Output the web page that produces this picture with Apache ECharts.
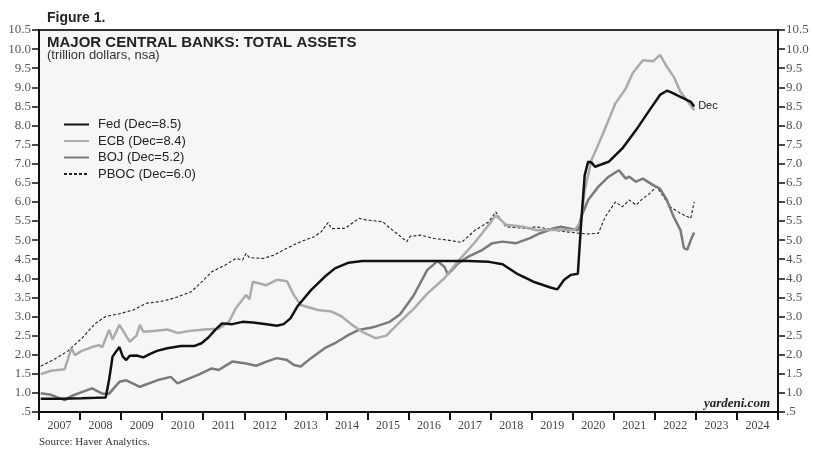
<!DOCTYPE html>
<html>
<head>
<meta charset="utf-8">
<script src="https://cdn.jsdelivr.net/npm/echarts@6/dist/echarts.min.js"></script>
<style>
  html, body { margin: 0; padding: 0; background: #ffffff; }
  #chart { width: 813px; height: 457px; }
</style>
</head>
<body>
<div id="chart"></div>
<script>
// Year labels centred under each year slot
const yearLabels = ['2007','2008','2009','2010','2011','2012','2013','2014','2015',
  '2016','2017','2018','2019','2020','2021','2022','2023','2024'];

// Total assets, trillion US dollars (month, value)
const fed = [
  ['2007-01',0.85],['2007-07',0.85],['2008-01',0.86],['2008-05',0.87],['2008-08',0.88],
  ['2008-09',1.35],['2008-10',1.95],['2008-11',2.08],['2008-12',2.2],['2009-01',1.95],
  ['2009-02',1.86],['2009-03',1.97],['2009-05',1.98],['2009-07',1.93],['2009-09',2.02],
  ['2009-11',2.1],['2010-02',2.17],['2010-06',2.23],['2010-10',2.23],['2010-12',2.3],
  ['2011-02',2.45],['2011-04',2.65],['2011-06',2.82],['2011-09',2.8],['2011-12',2.86],
  ['2012-03',2.84],['2012-07',2.8],['2012-10',2.76],['2012-12',2.8],['2013-02',2.95],
  ['2013-04',3.26],['2013-08',3.69],['2013-12',4.04],['2014-03',4.26],['2014-07',4.41],
  ['2014-11',4.45],['2015-06',4.45],['2016-01',4.45],['2016-09',4.45],['2017-06',4.45],
  ['2017-12',4.43],['2018-04',4.37],['2018-08',4.13],['2019-01',3.91],['2019-06',3.76],
  ['2019-08',3.71],['2019-10',3.96],['2019-12',4.09],['2020-02',4.12],['2020-03',5.5],
  ['2020-04',6.7],['2020-05',7.05],['2020-06',7.03],['2020-07',6.92],['2020-11',7.05],
  ['2021-03',7.40],['2021-07',7.88],['2021-11',8.41],['2022-02',8.80],['2022-04',8.91],
  ['2022-05',8.88],['2022-08',8.75],['2022-11',8.62],['2022-12',8.5]
];

const ecb = [
  ['2007-01',1.49],['2007-04',1.58],['2007-08',1.62],['2007-10',2.17],['2007-11',1.99],
  ['2008-01',2.1],['2008-04',2.2],['2008-06',2.25],['2008-07',2.2],['2008-09',2.65],
  ['2008-10',2.4],['2008-12',2.78],['2009-03',2.34],['2009-05',2.5],['2009-06',2.78],
  ['2009-07',2.6],['2009-10',2.62],['2010-02',2.66],['2010-05',2.57],['2010-09',2.63],
  ['2011-01',2.66],['2011-05',2.68],['2011-08',2.86],['2011-10',3.21],['2012-01',3.56],
  ['2012-02',3.45],['2012-03',3.91],['2012-07',3.82],['2012-10',3.96],['2013-01',3.92],
  ['2013-03',3.56],['2013-05',3.30],['2013-10',3.17],['2014-02',3.13],['2014-05',3.0],
  ['2014-08',2.78],['2014-11',2.6],['2015-03',2.43],['2015-06',2.5],['2015-10',2.86],
  ['2016-02',3.2],['2016-06',3.6],['2016-11',4.0],['2017-03',4.45],['2017-08',4.95],
  ['2017-12',5.4],['2018-02',5.65],['2018-05',5.4],['2018-10',5.35],['2019-02',5.26],
  ['2019-07',5.27],['2020-01',5.26],['2020-03',5.5],['2020-04',6.3],['2020-06',7.1],
  ['2020-09',7.71],['2021-01',8.58],['2021-04',8.97],['2021-06',9.37],['2021-09',9.71],
  ['2021-12',9.68],['2022-02',9.85],['2022-04',9.54],['2022-06',9.28],['2022-08',8.88],
  ['2022-10',8.65],['2022-12',8.4]
];

const boj = [
  ['2007-01',0.99],['2007-04',0.95],['2007-08',0.81],['2007-10',0.92],['2008-01',1.02],
  ['2008-04',1.12],['2008-07',0.98],['2008-09',0.98],['2008-12',1.29],['2009-02',1.33],
  ['2009-06',1.16],['2009-11',1.33],['2010-03',1.42],['2010-05',1.25],['2010-07',1.33],
  ['2010-11',1.47],['2011-03',1.64],['2011-05',1.6],['2011-09',1.82],['2012-01',1.77],
  ['2012-04',1.71],['2012-07',1.82],['2012-10',1.91],['2013-01',1.86],['2013-03',1.73],
  ['2013-05',1.69],['2013-08',1.91],['2013-12',2.17],['2014-03',2.3],['2014-07',2.52],
  ['2014-10',2.65],['2015-01',2.7],['2015-03',2.74],['2015-07',2.86],['2015-10',3.05],
  ['2016-02',3.55],['2016-06',4.22],['2016-09',4.45],['2016-11',4.3],['2016-12',4.1],
  ['2017-03',4.39],['2017-06',4.57],['2017-10',4.74],['2018-01',4.92],['2018-04',4.96],
  ['2018-08',4.92],['2018-12',5.05],['2019-03',5.18],['2019-07',5.31],['2019-09',5.35],
  ['2020-02',5.26],['2020-03',5.61],['2020-05',6.05],['2020-08',6.4],['2020-11',6.66],
  ['2021-02',6.83],['2021-04',6.61],['2021-05',6.66],['2021-07',6.53],['2021-09',6.61],
  ['2021-12',6.44],['2022-02',6.35],['2022-04',6.05],['2022-06',5.61],['2022-08',5.26],
  ['2022-09',4.79],['2022-10',4.75],['2022-11',5.0],['2022-12',5.2]
];

const pboc = [
  ['2007-01',1.70],['2007-05',1.88],['2007-09',2.10],['2008-01',2.43],['2008-05',2.82],
  ['2008-08',3.0],['2008-12',3.07],['2009-04',3.17],['2009-08',3.35],['2009-12',3.39],
  ['2010-04',3.48],['2010-09',3.65],['2010-12',3.9],['2011-03',4.17],['2011-07',4.35],
  ['2011-10',4.52],['2011-12',4.48],['2012-01',4.65],['2012-02',4.54],['2012-06',4.52],
  ['2012-09',4.6],['2013-01',4.79],['2013-05',4.96],['2013-09',5.09],['2013-11',5.22],
  ['2014-01',5.46],['2014-02',5.3],['2014-06',5.31],['2014-10',5.57],['2014-12',5.53],
  ['2015-05',5.48],['2015-06',5.39],['2015-09',5.18],['2015-12',4.96],['2016-01',5.1],
  ['2016-04',5.13],['2016-08',5.04],['2016-12',5.0],['2017-04',4.94],['2017-08',5.26],
  ['2017-12',5.48],['2018-02',5.74],['2018-03',5.6],['2018-05',5.35],['2018-10',5.31],
  ['2019-02',5.35],['2019-07',5.26],['2019-12',5.2],['2020-05',5.16],['2020-08',5.18],
  ['2020-10',5.61],['2021-01',6.0],['2021-03',5.87],['2021-05',6.05],['2021-07',5.92],
  ['2021-09',6.09],['2021-11',6.22],['2022-01',6.40],['2022-03',6.14],['2022-05',5.87],
  ['2022-08',5.70],['2022-11',5.57],['2022-12',6.0]
];

const legendNames = ['Fed (Dec=8.5)', 'ECB (Dec=8.4)', 'BOJ (Dec=5.2)', 'PBOC (Dec=6.0)'];

// 'YYYY-MM' -> decimal year at the middle of the month
function toPoints(rows) {
  return rows.map(function (r) {
    const parts = r[0].split('-');
    return [Number(parts[0]) + (Number(parts[1]) - 0.5) / 12, r[1]];
  });
}

const serif = 'Liberation Serif, Times New Roman, serif';
const sans = 'Liberation Sans, Arial, sans-serif';

function yLabel(v) {
  return Math.abs(v - 0.5) < 1e-9 ? '.5' : v.toFixed(1);
}

function yAxisDef(pos) {
  return {
    type: 'value', position: pos, min: 0.5, max: 10.5, interval: 0.5,
    axisLine: { show: true, lineStyle: { color: '#111', width: 2 } },
    axisTick: { show: true, inside: false, length: 7, lineStyle: { color: '#111', width: 1.5 } },
    axisLabel: { formatter: yLabel, fontFamily: serif, fontSize: 13, color: '#555', margin: 8 },
    splitLine: { show: false }
  };
}

const chart = echarts.init(document.getElementById('chart'), null, { renderer: 'canvas' });

chart.setOption({
  animation: false,
  backgroundColor: '#ffffff',
  grid: {
    left: 39, right: 35, top: 30, bottom: 45,
    show: true, backgroundColor: '#f6f6f6', borderColor: '#333', borderWidth: 2
  },
  title: [
    { text: 'Figure 1.', left: 47, top: 11, padding: 0,
      textStyle: { fontFamily: sans, fontSize: 14, fontWeight: 'bold', color: '#222' } },
    { text: 'MAJOR CENTRAL BANKS: TOTAL ASSETS', left: 47, top: 35, padding: 0,
      textStyle: { fontFamily: sans, fontSize: 15, fontWeight: 'bold', color: '#222' } },
    { text: '(trillion dollars, nsa)', left: 47, top: 49, padding: 0,
      textStyle: { fontFamily: sans, fontSize: 13, fontWeight: 'normal', color: '#333' } },
    { text: 'yardeni.com', right: 43, top: 397, padding: 0,
      textStyle: { fontFamily: serif, fontSize: 13, fontWeight: 'bold', fontStyle: 'italic', color: '#222' } },
    { text: 'Source: Haver Analytics.', left: 39, top: 437, padding: 0,
      textStyle: { fontFamily: serif, fontSize: 11, fontWeight: 'normal', color: '#333' } }
  ],
  legend: {
    data: legendNames,
    orient: 'vertical', left: 63, top: 118, padding: 0,
    itemWidth: 25, itemHeight: 14, itemGap: 3.5,
    itemStyle: { opacity: 0 },
    textStyle: { fontFamily: sans, fontSize: 13, color: '#222', padding: [0, 0, 0, 4] },
    selectedMode: false
  },
  xAxis: [
    {
      type: 'value', position: 'bottom', min: 2007, max: 2025, interval: 1,
      axisLine: { show: true, lineStyle: { color: '#111', width: 2 } },
      axisTick: { show: true, inside: false, length: 8, lineStyle: { color: '#111', width: 2 } },
      axisLabel: { show: false },
      splitLine: { show: false }
    },
    {
      type: 'category', position: 'bottom', data: yearLabels, boundaryGap: true,
      axisLine: { show: false }, axisTick: { show: false },
      axisLabel: { fontFamily: serif, fontSize: 12, color: '#444', margin: 8, interval: 0 },
      splitLine: { show: false }
    }
  ],
  yAxis: [yAxisDef('left'), yAxisDef('right')],
  series: [
    {
      name: legendNames[3], type: 'line', data: toPoints(pboc), symbol: 'none',
      lineStyle: { color: '#222', width: 1.1, type: [3, 2] }, itemStyle: { color: '#222' }
    },
    {
      name: legendNames[2], type: 'line', data: toPoints(boj), symbol: 'none',
      lineStyle: { color: '#7a7a7a', width: 2.5 }, itemStyle: { color: '#7a7a7a' }
    },
    {
      name: legendNames[1], type: 'line', data: toPoints(ecb), symbol: 'none',
      lineStyle: { color: '#ababab', width: 2.5 }, itemStyle: { color: '#ababab' }
    },
    {
      name: legendNames[0], type: 'line', data: toPoints(fed), symbol: 'none',
      lineStyle: { color: '#111', width: 2.5 }, itemStyle: { color: '#111' },
      endLabel: { show: true, formatter: 'Dec', fontFamily: sans, fontSize: 11, color: '#222', distance: 4 }
    }
  ]
});
</script>
</body>
</html>
